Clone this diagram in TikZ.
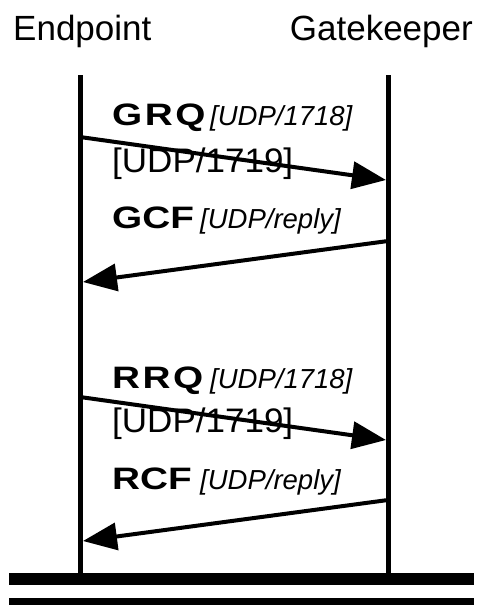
\documentclass[tikz,border=0pt]{standalone}
\usepackage{fontspec}
\setmainfont{Liberation Sans}
\usetikzlibrary{arrows.meta}

\tikzset{
  lifeline/.style={line width=5pt},
  msg/.style={line width=4pt,-{Triangle[length=34pt,width=27pt]}},
  party/.style={font=\fontsize{35}{40}\selectfont,inner sep=0pt},
  msgname/.style={font=\fontsize{31}{34}\selectfont\bfseries\addfontfeature{FakeStretch=1.25},inner sep=0pt,anchor=base west},
  port/.style={font=\fontsize{27.5}{30}\selectfont\itshape,inner sep=0pt,anchor=base west},
  portalt/.style={font=\fontsize{34}{38}\selectfont\addfontfeature{FakeStretch=1.03},inner sep=0pt,anchor=base west},
}

\begin{document}
\begin{tikzpicture}[x=1pt,y=-1pt]
  \useasboundingbox (0,0) rectangle (478,605);

  % parties
  \node[party,anchor=base west] (ep) at (13,40) {Endpoint};
  \node[party,anchor=base east] (gk) at (473,40) {Gatekeeper};

  % lifelines
  \coordinate (epTop) at (80,75);
  \coordinate (epBot) at (80,573);
  \coordinate (gkTop) at (388,75);
  \coordinate (gkBot) at (388,573);
  \draw[lifeline] (epTop) -- (epBot);
  \draw[lifeline] (gkTop) -- (gkBot);

  % gatekeeper discovery
  \node[msgname] (grq) at (112,125) {\addfontfeature{LetterSpace=8}GRQ};
  \node[port] (grqPort) at (210,125) {[UDP/1718]};
  \node[portalt] (grqAlt) at (112,172) {[UDP/1719]};
  \coordinate (grqFrom) at (80,137);
  \coordinate (grqTo) at (386,180);
  \draw[msg] (grqFrom) -- (grqTo);

  \node[msgname] (gcf) at (112,228) {GCF};
  \node[port] (gcfPort) at (200,228) {[UDP/reply]};
  \coordinate (gcfFrom) at (388,241);
  \coordinate (gcfTo) at (83,282);
  \draw[msg] (gcfFrom) -- (gcfTo);

  % registration
  \node[msgname] (rrq) at (112,388) {\addfontfeature{LetterSpace=8}RRQ};
  \node[port] (rrqPort) at (210,388) {[UDP/1718]};
  \node[portalt] (rrqAlt) at (112,432) {[UDP/1719]};
  \coordinate (rrqFrom) at (80,397);
  \coordinate (rrqTo) at (386,440);
  \draw[msg] (rrqFrom) -- (rrqTo);

  \node[msgname] (rcf) at (112,489) {RCF};
  \node[port] (rcfPort) at (200,489) {[UDP/reply]};
  \coordinate (rcfFrom) at (388,500);
  \coordinate (rcfTo) at (83,541);
  \draw[msg] (rcfFrom) -- (rcfTo);

  % ground bars
  \fill (9,573) rectangle (474,585);
  \fill (9,598) rectangle (474,605);
\end{tikzpicture}
\end{document}
